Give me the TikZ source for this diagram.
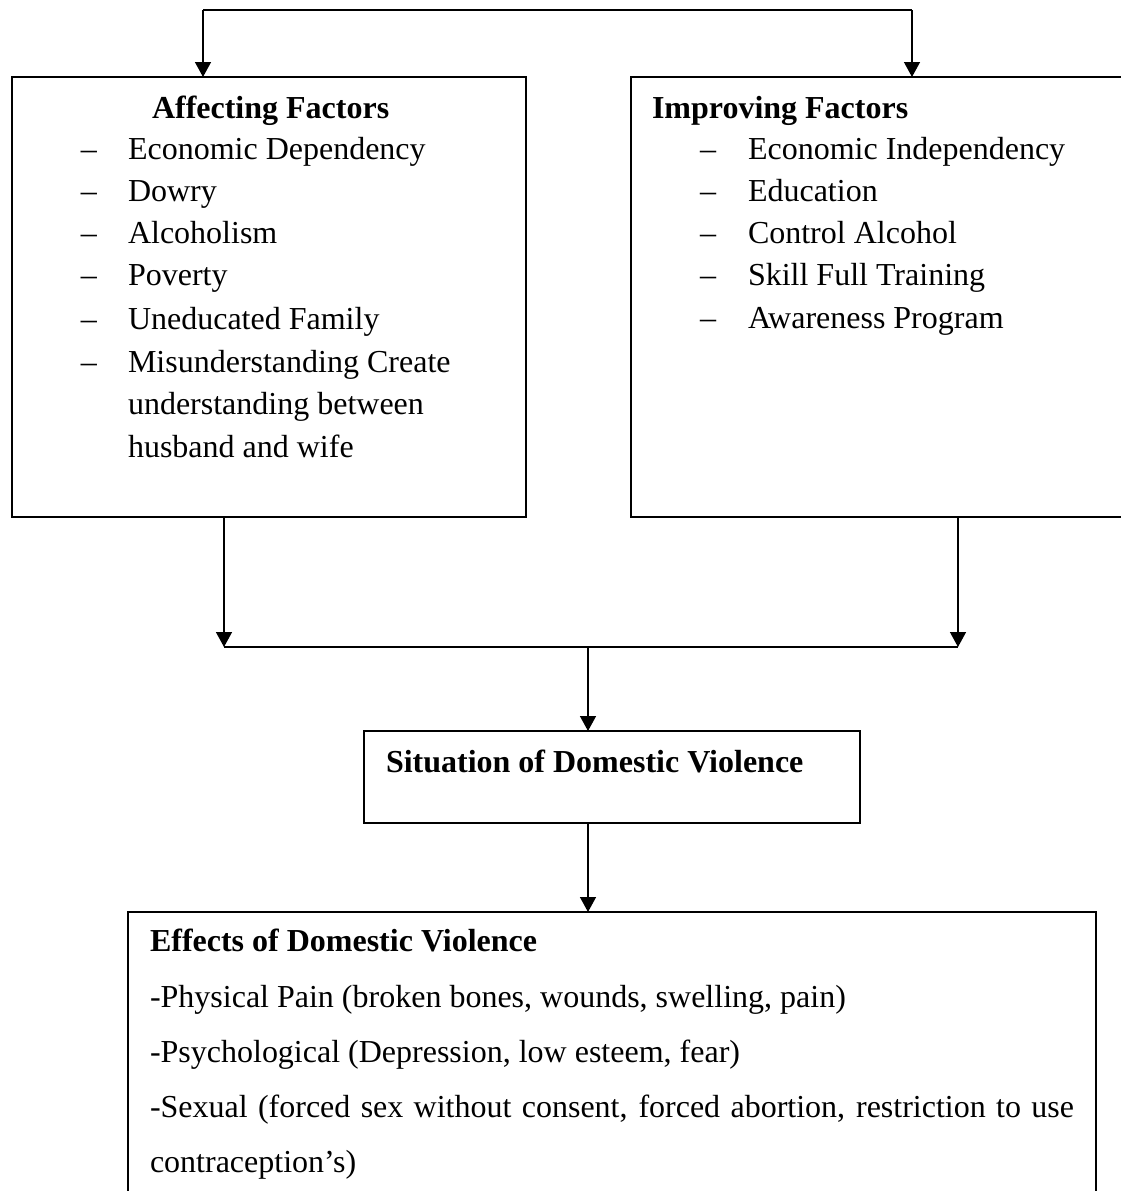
\documentclass[tikz,border=0pt]{standalone}
\usepackage{fontspec}
\setmainfont{Liberation Serif}
\usetikzlibrary{arrows.meta}
\tikzset{
  box/.style={draw, line width=1pt, inner sep=0pt, outer sep=0pt},
  conn/.style={line width=0.7pt},
  arr/.style={line width=0.7pt, -{Triangle[width=8pt,length=7.5pt]}},
  txt/.style={inner sep=0pt, outer sep=0pt, anchor=base west, font=\fontsize{16}{16}\selectfont},
  btxt/.style={txt, font=\fontsize{16}{16}\selectfont\bfseries},
}
\begin{document}
\begin{tikzpicture}[x=0.5pt,y=-0.5pt]
\useasboundingbox (0,0) rectangle (1121,1191);
% boxes
\node[box, minimum width=257pt, minimum height=220pt] (left) at (269,297) {};
\node[box, minimum width=250pt, minimum height=220pt] (right) at (881,297) {};
\node[box, minimum width=248pt, minimum height=46pt] (sit) at (612,777) {};
\node[box, minimum width=484pt, minimum height=154pt] (eff) at (612,1066) {};
% left box text
\node[btxt] (lt) at (152,118) {Affecting Factors};
\foreach \y/\t [count=\i] in {159/Economic Dependency, 201/Dowry, 243/Alcoholism, 285/Poverty, 329/Uneducated Family, 372/Misunderstanding Create}{
  \node[txt] (ld\i) at (81,\y) {\textendash};
  \node[txt] (li\i) at (128,\y) {\t};
}
\node[txt] (li7) at (128,414) {understanding between};
\node[txt] (li8) at (128,457) {husband and wife};
% right box text
\node[btxt] (rt) at (652,118) {Improving Factors};
\foreach \y/\t [count=\i] in {159/Economic Independency, 201/Education, 243/Control Alcohol, 285/Skill Full Training, 328/Awareness Program}{
  \node[txt] (rd\i) at (700,\y) {\textendash};
  \node[txt] (ri\i) at (748,\y) {\t};
}
% situation text
\node[btxt] (st) at (386,772) {Situation of Domestic Violence};
% effects text
\node[btxt] (et) at (150,951) {Effects of Domestic Violence};
\node[txt] (e1) at (150,1007) {-Physical Pain (broken bones, wounds, swelling, pain)};
\node[txt] (e2) at (150,1062) {-Psychological (Depression, low esteem, fear)};
\node[txt] (e3) at (150,1117) {\makebox[462pt][s]{-Sexual (forced sex without consent, forced abortion, restriction to use}};
\node[txt] (e4) at (150,1172) {contraception’s)};
% connectors
\coordinate (tl) at (203,10);
\coordinate (tr) at (912,10);
\draw[conn] (tl) -- (tr);
\draw[arr] (tl) -- (tl |- left.north);
\draw[arr] (tr) -- (tr |- right.north);
\coordinate (bl) at (224,647);
\coordinate (br) at (958,647);
\coordinate (bm) at (588,647);
\draw[arr] (bl |- left.south) -- (bl);
\draw[arr] (br |- right.south) -- (br);
\draw[conn] (bl) -- (br);
\draw[arr] (bm) -- (bm |- sit.north);
\draw[arr] (bm |- sit.south) -- (bm |- eff.north);
\end{tikzpicture}
\end{document}
